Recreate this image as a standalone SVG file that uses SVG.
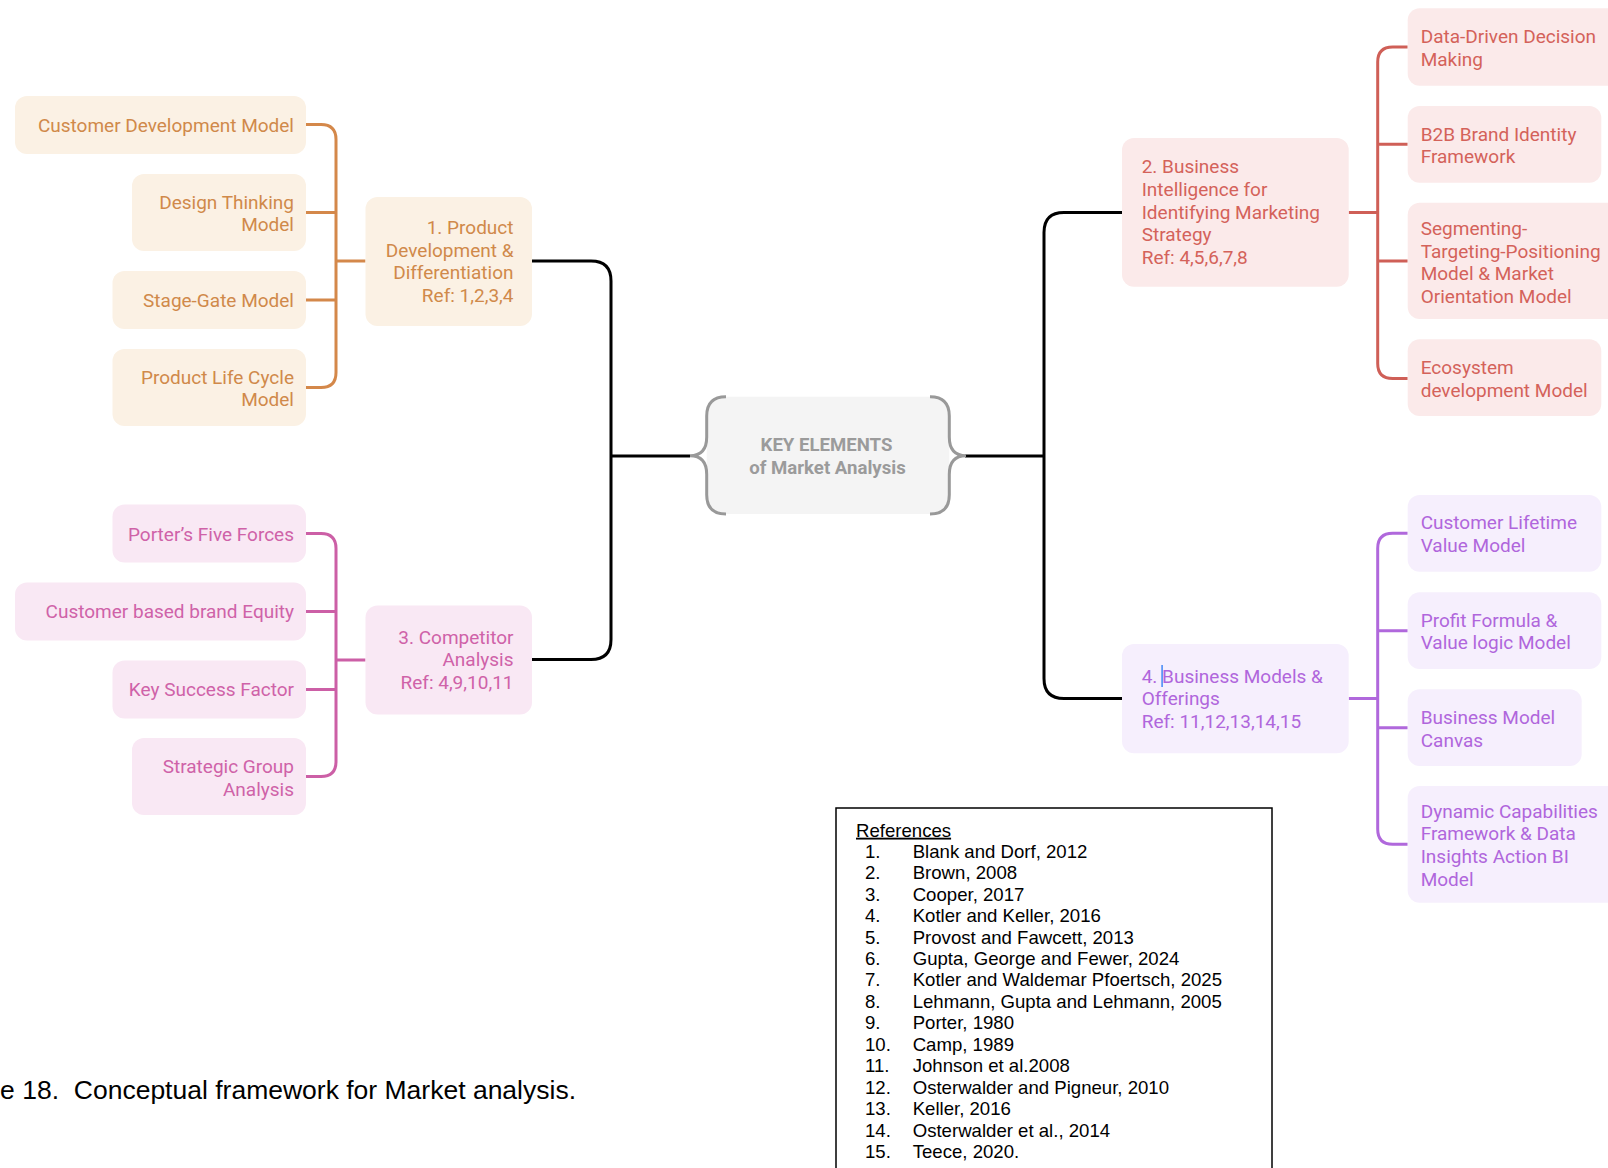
<svg xmlns="http://www.w3.org/2000/svg" width="1608" height="1168" viewBox="0 0 1608 1168">
  <style>
    .node text { font-family: Roboto, "Liberation Sans", sans-serif; font-size: 19px; }
    .end { text-anchor: end; }
    .or rect { fill: #fbf1e4; } .or text { fill: #d0894a; }
    .pk rect { fill: #f9e8f4; } .pk text { fill: #cf62a8; }
    .rd rect { fill: #fbeaea; } .rd text { fill: #d4625a; }
    .pu rect { fill: #f6effd; } .pu text { fill: #b066dc; }
    .wire { fill: none; stroke-width: 3; stroke-linecap: butt; }
    .w-or { stroke: #d4884a; } .w-pk { stroke: #cc5fa6; }
    .w-rd { stroke: #cf5f57; } .w-pu { stroke: #b068dc; }
    .w-bk { stroke: #000; }
    .ref text { font-family: "Liberation Sans", Arial, sans-serif; font-size: 18.6px; fill: #000; }
    .topic { font-family: Roboto, "Liberation Sans", sans-serif; font-size: 18.6px; font-weight: bold; fill: #9b9b9b; text-anchor: middle; }
  </style>

  <rect width="1608" height="1168" fill="#fff"/>

  <!-- connectors -->
  <g id="connectors">
    <!-- trunk: left -->
    <path class="wire w-bk" d="M532 261 H591 Q611 261 611 281 V639.5 Q611 659.5 591 659.5 H532"/>
    <path class="wire w-bk" d="M611 456 H690"/>
    <!-- trunk: right -->
    <path class="wire w-bk" d="M965 456 H1044"/>
    <path class="wire w-bk" d="M1122 212.5 H1064 Q1044 212.5 1044 232.5 V678.5 Q1044 698.5 1064 698.5 H1122"/>
    <!-- branch 1 -->
    <path class="wire w-or" d="M306 124.5 H321 Q336 124.5 336 139.5 V372.5 Q336 387.5 321 387.5 H306 M306 212.5 H336 M306 300 H336 M336 261 H365.5"/>
    <!-- branch 3 -->
    <path class="wire w-pk" d="M306 533.5 H321 Q336 533.5 336 548.5 V761.5 Q336 776.5 321 776.5 H306 M306 611.5 H336 M306 689.5 H336 M336 660 H365.5"/>
    <!-- branch 2 -->
    <path class="wire w-rd" d="M1407.7 47 H1392.7 Q1377.7 47 1377.7 62 V363.5 Q1377.7 378.5 1392.7 378.5 H1407.7 M1377.7 144.3 H1407.7 M1377.7 261 H1407.7 M1348.7 212.5 H1377.7"/>
    <!-- branch 4 -->
    <path class="wire w-pu" d="M1407.7 533.3 H1392.7 Q1377.7 533.3 1377.7 548.3 V829.3 Q1377.7 844.3 1392.7 844.3 H1407.7 M1377.7 630.7 H1407.7 M1377.7 727.7 H1407.7 M1348.7 698.5 H1377.7"/>
  </g>

  <!-- central topic -->
  <g id="center">
    <rect x="706.7" y="396.7" width="242.6" height="117.3" rx="19" fill="#f4f4f4"/>
    <path d="M726 396.7 Q706.7 396.7 706.7 416 V437 Q706.7 455.7 690 455.7 Q706.7 455.7 706.7 474.4 V494.7 Q706.7 514 726 514" fill="none" stroke="#999" stroke-width="3"/>
    <path d="M930 396.7 Q949.3 396.7 949.3 416 V437 Q949.3 455.7 966 455.7 Q949.3 455.7 949.3 474.4 V494.7 Q949.3 514 930 514" fill="none" stroke="#999" stroke-width="3"/>
    <text class="topic" x="826.5" y="450.7">KEY ELEMENTS</text>
    <text class="topic" x="827.5" y="474">of Market Analysis</text>
  </g>

  <!-- 1. Product Development & Differentiation -->
  <g id="n1" class="node or">
    <rect x="365.5" y="197" width="166.5" height="129" rx="12"/>
    <text class="end" x="513.5" y="234">1. Product</text>
    <text class="end" x="513.5" y="256.6">Development &amp;</text>
    <text class="end" x="513.5" y="279.2">Differentiation</text>
    <text class="end" x="513.5" y="301.8">Ref: 1,2,3,4</text>
  </g>
  <g id="n1a" class="node or">
    <rect x="15" y="96" width="291" height="58" rx="12"/>
    <text class="end" x="294" y="132">Customer Development Model</text>
  </g>
  <g id="n1b" class="node or">
    <rect x="132" y="174" width="174" height="77" rx="12"/>
    <text class="end" x="294" y="208.5">Design Thinking</text>
    <text class="end" x="294" y="231">Model</text>
  </g>
  <g id="n1c" class="node or">
    <rect x="112.5" y="271" width="193.5" height="58" rx="12"/>
    <text class="end" x="294" y="307">Stage-Gate Model</text>
  </g>
  <g id="n1d" class="node or">
    <rect x="112.5" y="349" width="193.5" height="77" rx="12"/>
    <text class="end" x="294" y="383.5">Product Life Cycle</text>
    <text class="end" x="294" y="406">Model</text>
  </g>

  <!-- 3. Competitor Analysis -->
  <g id="n3" class="node pk">
    <rect x="365.5" y="605.5" width="166.5" height="109" rx="12"/>
    <text class="end" x="513.5" y="643.5">3. Competitor</text>
    <text class="end" x="513.5" y="666">Analysis</text>
    <text class="end" x="513.5" y="688.5">Ref: 4,9,10,11</text>
  </g>
  <g id="n3a" class="node pk">
    <rect x="112.5" y="504.5" width="193.5" height="58" rx="12"/>
    <text class="end" x="294" y="540.5">Porter’s Five Forces</text>
  </g>
  <g id="n3b" class="node pk">
    <rect x="15" y="582.5" width="291" height="58" rx="12"/>
    <text class="end" x="294" y="618">Customer based brand Equity</text>
  </g>
  <g id="n3c" class="node pk">
    <rect x="112.5" y="660.5" width="193.5" height="58" rx="12"/>
    <text class="end" x="294" y="696">Key Success Factor</text>
  </g>
  <g id="n3d" class="node pk">
    <rect x="132" y="738" width="174" height="77" rx="12"/>
    <text class="end" x="294" y="773">Strategic Group</text>
    <text class="end" x="294" y="795.5">Analysis</text>
  </g>

  <!-- 2. Business Intelligence -->
  <g id="n2" class="node rd">
    <rect x="1122" y="138" width="226.7" height="148.7" rx="12"/>
    <text x="1141.7" y="173.3">2. Business</text>
    <text x="1141.7" y="196">Intelligence for</text>
    <text x="1141.7" y="218.7">Identifying Marketing</text>
    <text x="1141.7" y="241.3">Strategy</text>
    <text x="1141.7" y="264">Ref: 4,5,6,7,8</text>
  </g>
  <g id="n2a" class="node rd">
    <rect x="1407.7" y="8.3" width="230" height="77.4" rx="12"/>
    <text x="1420.7" y="43.3">Data-Driven Decision</text>
    <text x="1420.7" y="66">Making</text>
  </g>
  <g id="n2b" class="node rd">
    <rect x="1407.7" y="106" width="193.6" height="76.7" rx="12"/>
    <text x="1420.7" y="140.7">B2B Brand Identity</text>
    <text x="1420.7" y="163.3">Framework</text>
  </g>
  <g id="n2c" class="node rd">
    <rect x="1407.7" y="202.7" width="230" height="116.3" rx="12"/>
    <text x="1420.7" y="235.3">Segmenting-</text>
    <text x="1420.7" y="257.7">Targeting-Positioning</text>
    <text x="1420.7" y="280">Model &amp; Market</text>
    <text x="1420.7" y="302.7">Orientation Model</text>
  </g>
  <g id="n2d" class="node rd">
    <rect x="1407.7" y="339.3" width="193.6" height="76.7" rx="12"/>
    <text x="1420.7" y="374">Ecosystem</text>
    <text x="1420.7" y="396.7">development Model</text>
  </g>

  <!-- 4. Business Models & Offerings -->
  <g id="n4" class="node pu">
    <rect x="1122" y="644" width="226.7" height="109.3" rx="12"/>
    <text x="1141.7" y="682.7">4. Business Models &amp;</text>
    <text x="1141.7" y="705.3">Offerings</text>
    <text x="1141.7" y="728">Ref: 11,12,13,14,15</text>
    <rect x="1161.3" y="665" width="1.6" height="22" style="fill:#4d8ef5"/>
  </g>
  <g id="n4a" class="node pu">
    <rect x="1407.7" y="495" width="193.6" height="76.7" rx="12"/>
    <text x="1420.7" y="529.3">Customer Lifetime</text>
    <text x="1420.7" y="551.7">Value Model</text>
  </g>
  <g id="n4b" class="node pu">
    <rect x="1407.7" y="592.3" width="193.6" height="76.7" rx="12"/>
    <text x="1420.7" y="626.7">Profit Formula &amp;</text>
    <text x="1420.7" y="649.3">Value logic Model</text>
  </g>
  <g id="n4c" class="node pu">
    <rect x="1407.7" y="689.3" width="174" height="76.7" rx="12"/>
    <text x="1420.7" y="724">Business Model</text>
    <text x="1420.7" y="746.7">Canvas</text>
  </g>
  <g id="n4d" class="node pu">
    <rect x="1407.7" y="786" width="230" height="116.7" rx="12"/>
    <text x="1420.7" y="817.7">Dynamic Capabilities</text>
    <text x="1420.7" y="840.3">Framework &amp; Data</text>
    <text x="1420.7" y="863">Insights Action BI</text>
    <text x="1420.7" y="885.7">Model</text>
  </g>

  <!-- reference list -->
  <g id="references" class="ref">
    <rect x="836" y="808" width="436" height="380" fill="#fff" stroke="#000" stroke-width="1.5"/>
    <text x="856" y="836.7" text-decoration="underline">References</text>
    <text x="865" y="857.7">1.</text><text x="912.7" y="857.7">Blank and Dorf, 2012</text>
    <text x="865" y="879.1">2.</text><text x="912.7" y="879.1">Brown, 2008</text>
    <text x="865" y="900.6">3.</text><text x="912.7" y="900.6">Cooper, 2017</text>
    <text x="865" y="922">4.</text><text x="912.7" y="922">Kotler and Keller, 2016</text>
    <text x="865" y="943.5">5.</text><text x="912.7" y="943.5">Provost and Fawcett, 2013</text>
    <text x="865" y="965">6.</text><text x="912.7" y="965">Gupta, George and Fewer, 2024</text>
    <text x="865" y="986.4">7.</text><text x="912.7" y="986.4">Kotler and Waldemar Pfoertsch, 2025</text>
    <text x="865" y="1007.9">8.</text><text x="912.7" y="1007.9">Lehmann, Gupta and Lehmann, 2005</text>
    <text x="865" y="1029.3">9.</text><text x="912.7" y="1029.3">Porter, 1980</text>
    <text x="865" y="1050.8">10.</text><text x="912.7" y="1050.8">Camp, 1989</text>
    <text x="865" y="1072.2">11.</text><text x="912.7" y="1072.2">Johnson et al.2008</text>
    <text x="865" y="1093.7">12.</text><text x="912.7" y="1093.7">Osterwalder and Pigneur, 2010</text>
    <text x="865" y="1115.1">13.</text><text x="912.7" y="1115.1">Keller, 2016</text>
    <text x="865" y="1136.6">14.</text><text x="912.7" y="1136.6">Osterwalder et al., 2014</text>
    <text x="865" y="1158">15.</text><text x="912.7" y="1158">Teece, 2020.</text>
  </g>

  <!-- caption -->
  <text id="caption" x="576" y="1099" text-anchor="end" font-family="'Liberation Sans', Arial, sans-serif" font-size="26.5" fill="#000" xml:space="preserve">e 18.  Conceptual framework for Market analysis.</text>
</svg>
